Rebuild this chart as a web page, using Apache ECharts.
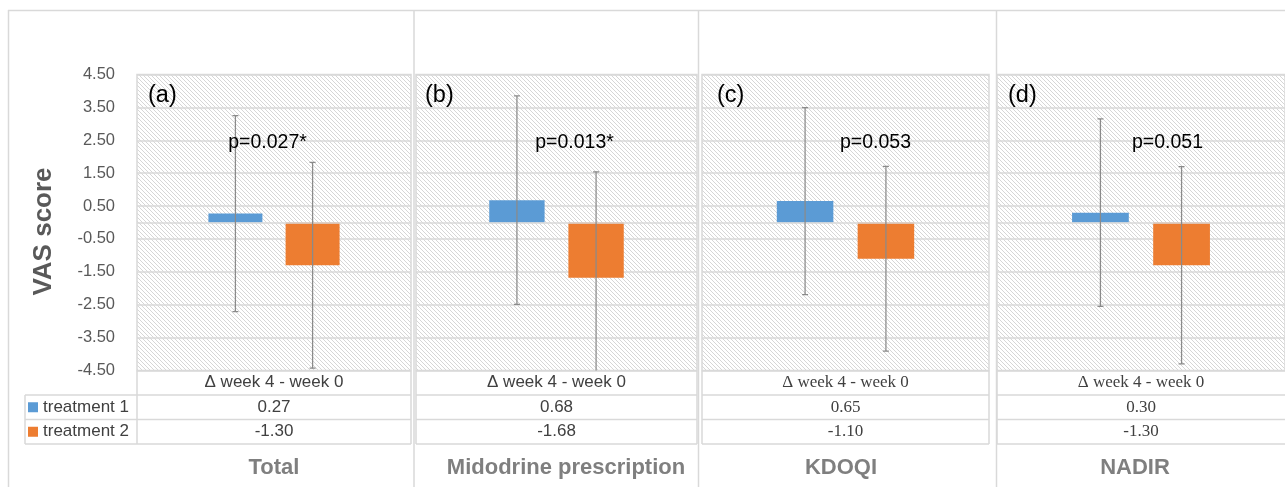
<!DOCTYPE html>
<html><head><meta charset="utf-8">
<script src="https://cdn.jsdelivr.net/npm/echarts@6/dist/echarts.min.js"></script>
<style>html,body{margin:0;padding:0;background:#fff}#c{width:1285px;height:487px}</style>
</head><body><div id="c"></div>
<script>
// ---------- data ----------
const panelLetters = ['(a)', '(b)', '(c)', '(d)'];
const panelTitles = ['Total', 'Midodrine prescription', 'KDOQI', 'NADIR'];
const categories = ['\u0394 week 4 - week 0'];
const seriesNames = ['treatment 1', 'treatment 2'];
const treatment1Mean = [0.27, 0.68, 0.65, 0.30];
const treatment2Mean = [-1.30, -1.68, -1.10, -1.30];
const treatment1SD = [2.98, 3.17, 2.84, 2.85];
const treatment2SD = [3.13, 3.22, 2.81, 3.00];
const pValues = ['p=0.027*', 'p=0.013*', 'p=0.053', 'p=0.051'];
const yMin = -4.5, yMax = 4.5, yStep = 1;
const yAxisTitle = 'VAS score';

// ---------- layout ----------
const TOP = 74.5, H = 296, BOTTOM = TOP + H;
const panels = [{ l: 137, w: 274 }, { l: 416, w: 281 }, { l: 702, w: 287 }, { l: 997, w: 289 }];
const tableFonts = ['Liberation Sans', 'Liberation Sans', 'Liberation Serif', 'Liberation Serif'];
const ROW = 24.5;
const rowLines = [BOTTOM + ROW, BOTTOM + 2 * ROW, BOTTOM + 3 * ROW];
const titleX = [274, 566, 841, 1135];
const pX = [267.5, 574.5, 875.5, 1167.5];
const letterX = [148, 425, 717, 1008];
const chartBorders = [8.5, 414, 698.5, 996.5];
const BAR_FR = 0.197, BAR_GAP = 0.43;
const colors = ['#5b9bd5', '#ed7d31'];
const GRID_C = '#d9d9d9';

// hatch pattern
const tile = document.createElement('canvas');
tile.width = 4; tile.height = 4;
const tctx = tile.getContext('2d');
tctx.fillStyle = '#ffffff'; tctx.fillRect(0, 0, 4, 4);
tctx.fillStyle = '#d6d6d6';
for (let i = 0; i < 4; i++) tctx.fillRect(i, i, 1, 1);
const hatch = { image: tile, repeat: 'repeat' };

const grid = [], xAxis = [], yAxis = [], series = [], graphic = [];

function errRender(sign) {
  return function (params, api) {
    const cx = api.coord([api.value(0), 0])[0];
    const band = api.size([1, 0])[0];
    const bw = band * BAR_FR;
    const x = cx + sign * bw * (1 + BAR_GAP) / 2;
    const m = api.value(1), s = api.value(2);
    const top = api.coord([api.value(0), m + s])[1];
    const bot = api.coord([api.value(0), m - s])[1];
    const style = { stroke: '#8a8a8a', lineWidth: 1.25 };
    return {
      type: 'group', children: [
        { type: 'line', shape: { x1: x, y1: top, x2: x, y2: bot }, style },
        { type: 'line', shape: { x1: x - 3, y1: top, x2: x + 3, y2: top }, style },
        { type: 'line', shape: { x1: x - 3, y1: bot, x2: x + 3, y2: bot }, style }
      ]
    };
  };
}

panels.forEach((p, i) => {
  grid.push({
    left: p.l, top: TOP, width: p.w, height: H, show: true,
    backgroundColor: hatch, borderColor: GRID_C, borderWidth: 1.5
  });
  xAxis.push({
    type: 'category', gridIndex: i, data: categories,
    axisLine: { show: false }, axisTick: { show: false },
    axisLabel: {
      interval: 0, margin: 0, lineHeight: ROW, fontSize: 17,
      fontFamily: tableFonts[i], color: '#404040',
      formatter: v => [v, treatment1Mean[i].toFixed(2), treatment2Mean[i].toFixed(2)].join('\n')
    }
  });
  yAxis.push({
    type: 'value', gridIndex: i, min: yMin, max: yMax, interval: yStep,
    axisLine: { show: false }, axisTick: { show: false },
    splitLine: { lineStyle: { color: GRID_C, width: 1.5 } },
    axisLabel: {
      show: i === 0, margin: 22, fontSize: 16.5, color: '#595959',
      fontFamily: 'Liberation Sans', formatter: v => v.toFixed(2)
    },
    name: i === 0 ? yAxisTitle : '', nameLocation: 'middle', nameGap: 80,
    nameTextStyle: { fontSize: 26, fontWeight: 'bold', color: '#595959', fontFamily: 'Liberation Sans', padding: [0, 18, 0, 0] }
  });
  series.push({
    type: 'bar', name: seriesNames[0], xAxisIndex: i, yAxisIndex: i,
    data: [treatment1Mean[i]], barWidth: (BAR_FR * 100) + '%', barGap: (BAR_GAP * 100) + '%',
    itemStyle: { color: colors[0] },
    markLine: {
      silent: true, symbol: 'none', label: { show: false },
      lineStyle: { color: GRID_C, width: 1.5, type: 'solid' },
      data: [{ yAxis: 0 }]
    }
  });
  series.push({
    type: 'bar', name: seriesNames[1], xAxisIndex: i, yAxisIndex: i,
    data: [treatment2Mean[i]], barWidth: (BAR_FR * 100) + '%', barGap: (BAR_GAP * 100) + '%',
    itemStyle: { color: colors[1] }
  });
  series.push({
    type: 'custom', xAxisIndex: i, yAxisIndex: i, clip: true, z: 5,
    renderItem: errRender(-1), encode: { x: 0, y: 1 },
    data: [[0, treatment1Mean[i], treatment1SD[i]]]
  });
  series.push({
    type: 'custom', xAxisIndex: i, yAxisIndex: i, clip: true, z: 5,
    renderItem: errRender(1), encode: { x: 0, y: 1 },
    data: [[0, treatment2Mean[i], treatment2SD[i]]]
  });

  // table lines
  const ls = { stroke: GRID_C, lineWidth: 1.5 };
  const left = i === 0 ? 25 : p.l;
  graphic.push({ type: 'line', shape: { x1: p.l, y1: BOTTOM, x2: p.l, y2: rowLines[2] }, style: ls, z: 1 });
  graphic.push({ type: 'line', shape: { x1: p.l + p.w, y1: BOTTOM, x2: p.l + p.w, y2: rowLines[2] }, style: ls, z: 1 });
  rowLines.forEach(y => graphic.push({ type: 'line', shape: { x1: left, y1: y, x2: p.l + p.w, y2: y }, style: ls, z: 1 }));
  if (i === 0) graphic.push({ type: 'line', shape: { x1: 25, y1: rowLines[0], x2: 25, y2: rowLines[2] }, style: ls, z: 1 });

  // texts
  graphic.push({ type: 'text', x: letterX[i], y: 96, z: 10,
    style: { text: panelLetters[i], fontSize: 23.5, fontFamily: 'Liberation Sans', fill: '#000', verticalAlign: 'middle' } });
  graphic.push({ type: 'text', x: pX[i], y: 143, z: 10,
    style: { text: pValues[i], fontSize: 19.5, fontFamily: 'Liberation Sans', fill: '#000', align: 'center', verticalAlign: 'middle' } });
  graphic.push({ type: 'text', x: titleX[i], y: 468, z: 10,
    style: { text: panelTitles[i], fontSize: 22, fontWeight: 'bold', fontFamily: 'Liberation Sans', fill: '#7f7f7f', align: 'center', verticalAlign: 'middle' } });
});

// outer chart borders
graphic.push({ type: 'line', shape: { x1: 8, y1: 10.5, x2: 1285, y2: 10.5 }, style: { stroke: GRID_C, lineWidth: 1.5 } });
chartBorders.forEach(x => graphic.push({ type: 'line', shape: { x1: x, y1: 10, x2: x, y2: 487 }, style: { stroke: GRID_C, lineWidth: 1.5 } }));

const chart = echarts.init(document.getElementById('c'), null, { renderer: 'canvas' });
chart.setOption({
  animation: false,
  backgroundColor: '#ffffff',
  legend: {
    data: seriesNames, orient: 'vertical', left: 28, top: BOTTOM + ROW, padding: 0,
    itemWidth: 10, itemHeight: 10, itemGap: 0, icon: 'rect', selectedMode: false,
    textStyle: { fontSize: 17, color: '#404040', fontFamily: 'Liberation Sans', lineHeight: ROW }
  },
  grid, xAxis, yAxis, series, graphic
});
</script></body></html>
